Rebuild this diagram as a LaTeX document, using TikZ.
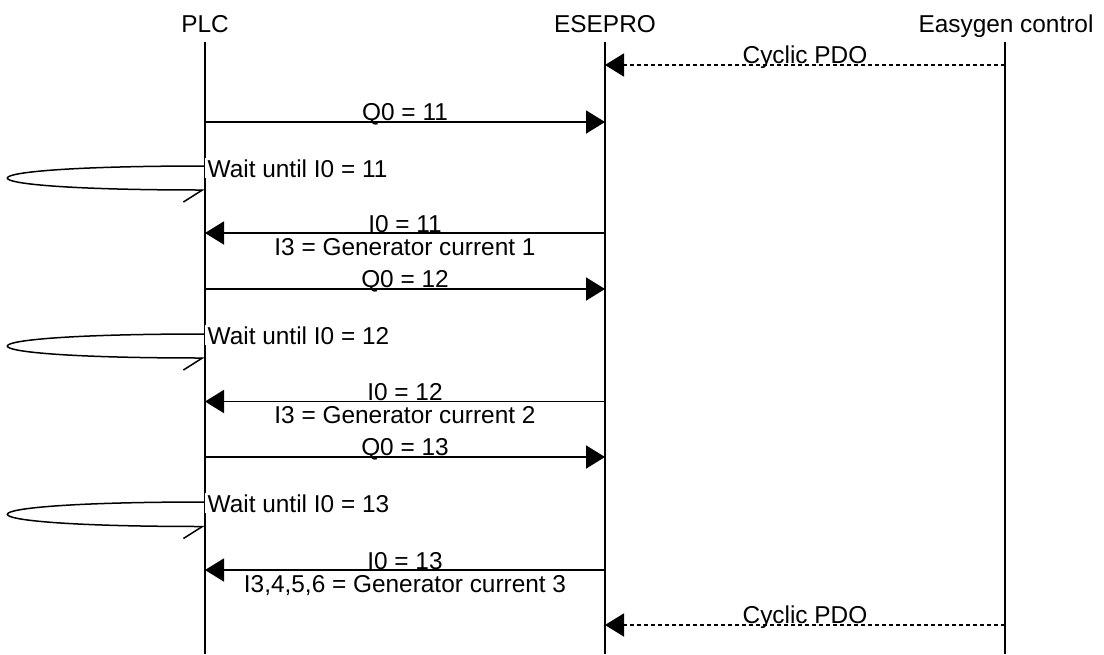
\documentclass[tikz,border=0pt]{standalone}
\usepackage{fontspec}
\setmainfont{Liberation Sans}
\usetikzlibrary{arrows.meta}
\begin{document}
\begin{tikzpicture}[x=1pt,y=-1pt,
  lbl/.style={font=\fontsize{24.4}{28}\selectfont, inner sep=0pt},
  waitlbl/.style={lbl, fill=white, inner xsep=2.5pt, inner ysep=1pt, anchor=base west},
  life/.style={line width=1.7pt},
  msg/.style={line width=1.7pt, -{Triangle[length=19pt,width=23pt]}},
  async/.style={msg, dash pattern=on 4pt off 3pt},
  selfloop/.style={line width=1.5pt, -{Straight Barb[harpoon,swap,length=19pt,width=24pt]}},
]
\useasboundingbox (0,0) rectangle (1104,654);
% participants
\node[lbl, anchor=base] (plc) at (205,32) {PLC};
\node[lbl, anchor=base] (esepro) at (605,32) {ESEPRO};
\node[lbl, anchor=base] (easygen) at (1006,32) {Easygen control};
\coordinate (plcTop) at (205,42);   \coordinate (plcBot) at (205,654);
\coordinate (eseTop) at (605,42);   \coordinate (eseBot) at (605,654);
\coordinate (egTop)  at (1005,42);  \coordinate (egBot)  at (1005,654);
\draw[life] (plcTop) -- (plcBot);
\draw[life] (eseTop) -- (eseBot);
\draw[life] (egTop) -- (egBot);

% cyclic PDO (top)
\coordinate (pdoA1) at (1005,65); \coordinate (pdoB1) at (605,65);
\draw[async] (pdoA1) -- (pdoB1);
\node[lbl, anchor=base] (pdol1) at (805,63) {Cyclic PDO};

% ---- cycle 1
\coordinate (q1a) at (205,122); \coordinate (q1b) at (605,122);
\draw[msg] (q1a) -- (q1b);
\node[lbl, anchor=base] (q1l) at (405,120) {Q0 = 11};
\coordinate (w1a) at (205,166); \coordinate (w1b) at (205,190);
\draw[selfloop] (w1a) .. controls (-58,166) and (-58,190) .. (w1b);
\node[waitlbl] (w1l) at (205,177) {Wait until I0 = 11};
\coordinate (i1a) at (605,233); \coordinate (i1b) at (205,233);
\draw[msg] (i1a) -- (i1b);
\node[lbl, anchor=base] (i1l) at (405,232) {I0 = 11};
\node[lbl, anchor=base] (i1m) at (405,255) {I3 = Generator current 1};

% ---- cycle 2
\coordinate (q2a) at (205,289); \coordinate (q2b) at (605,289);
\draw[msg] (q2a) -- (q2b);
\node[lbl, anchor=base] (q2l) at (405,287) {Q0 = 12};
\coordinate (w2a) at (205,334); \coordinate (w2b) at (205,358);
\draw[selfloop] (w2a) .. controls (-58,334) and (-58,358) .. (w2b);
\node[waitlbl] (w2l) at (205,344) {Wait until I0 = 12};
\coordinate (i2a) at (605,401.5); \coordinate (i2b) at (205,401.5);
\draw[msg] (i2a) -- (i2b);
\node[lbl, anchor=base] (i2l) at (405,400.5) {I0 = 12};
\node[lbl, anchor=base] (i2m) at (405,423.5) {I3 = Generator current 2};

% ---- cycle 3
\coordinate (q3a) at (205,457); \coordinate (q3b) at (605,457);
\draw[msg] (q3a) -- (q3b);
\node[lbl, anchor=base] (q3l) at (405,455) {Q0 = 13};
\coordinate (w3a) at (205,502); \coordinate (w3b) at (205,526.5);
\draw[selfloop] (w3a) .. controls (-58,502) and (-58,526.5) .. (w3b);
\node[waitlbl] (w3l) at (205,512) {Wait until I0 = 13};
\coordinate (i3a) at (605,570); \coordinate (i3b) at (205,570);
\draw[msg] (i3a) -- (i3b);
\node[lbl, anchor=base] (i3l) at (405,569) {I0 = 13};
\node[lbl, anchor=base] (i3m) at (405,592) {I3,4,5,6 = Generator current 3};

% cyclic PDO (bottom)
\coordinate (pdoA2) at (1005,625); \coordinate (pdoB2) at (605,625);
\draw[async] (pdoA2) -- (pdoB2);
\node[lbl, anchor=base] (pdol2) at (805,623) {Cyclic PDO};
\end{tikzpicture}
\end{document}
